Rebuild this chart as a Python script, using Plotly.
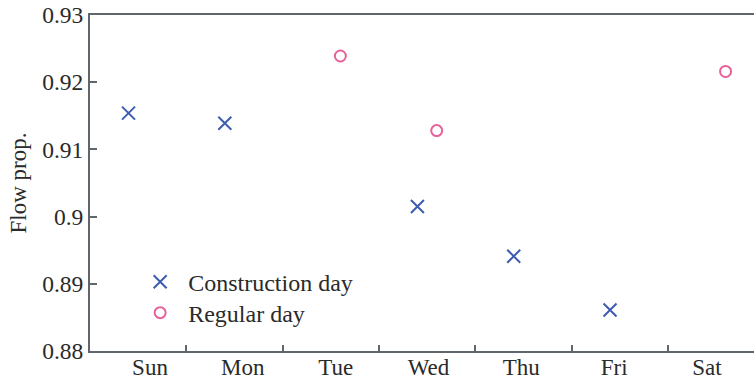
import plotly.graph_objects as go

# Weekday labels and day index of each observation
days = ["Sun", "Mon", "Tue", "Wed", "Thu", "Fri", "Sat"]

construction_day_idx = [0, 1, 3, 4, 5]
construction_flow = [0.9154, 0.9139, 0.9015, 0.8941, 0.8861]

regular_day_idx = [2, 3, 6]
regular_flow = [0.9239, 0.9128, 0.9216]

y_ticks = [0.88, 0.89, 0.90, 0.91, 0.92, 0.93]
y_ticktext = ["0.88", "0.89", "0.9", "0.91", "0.92", "0.93"]

BLUE = "#3d5bb0"
PINK = "#e9609a"
AXIS = "#5f676c"
TEXT = "#2a2a2a"
FONT = "Liberation Serif"

# small horizontal offset so the two groups sit side by side within a day
OFFSET = 0.1

fig = go.Figure()
fig.add_trace(go.Scatter(
    x=[d - OFFSET for d in construction_day_idx], y=construction_flow,
    mode="markers", name="Construction day",
    marker=dict(symbol="x-thin", size=13, line=dict(color=BLUE, width=2), color=BLUE),
    legend="legend",
))
fig.add_trace(go.Scatter(
    x=[d + OFFSET for d in regular_day_idx], y=regular_flow,
    mode="markers", name="Regular day",
    marker=dict(symbol="circle-open", size=11, line=dict(color=PINK, width=2), color=PINK),
    legend="legend2",
))
# invisible trace so the weekday label axis is rendered
fig.add_trace(go.Scatter(x=[0], y=[0.9], xaxis="x2", mode="markers",
                         marker=dict(opacity=0), showlegend=False, hoverinfo="skip"))

legend_style = dict(
    bgcolor="rgba(0,0,0,0)", borderwidth=0,
    font=dict(family=FONT, size=24, color=TEXT),
    xanchor="left", yanchor="middle", itemwidth=46,
)

fig.update_layout(
    width=754, height=382,
    margin=dict(l=90, r=0, t=15, b=31),
    plot_bgcolor="white", paper_bgcolor="white",
    font=dict(family=FONT, size=23, color=TEXT),
    xaxis=dict(
        range=[-0.5, 6.395],
        tickvals=[i + 0.5 for i in range(len(days) - 1)],
        showticklabels=False,
        ticks="inside", ticklen=6, tickwidth=1.5, tickcolor=AXIS,
        showline=True, linecolor=AXIS, linewidth=2, mirror=True,
        showgrid=False, zeroline=False,
    ),
    xaxis2=dict(
        overlaying="x", side="bottom",
        range=[-0.646, 6.506],
        tickvals=list(range(len(days))), ticktext=days,
        ticks="", showline=False, showgrid=False, zeroline=False,
        tickfont=dict(family=FONT, size=23, color=TEXT),
    ),
    yaxis=dict(
        range=[0.88, 0.93],
        tickvals=y_ticks, ticktext=y_ticktext,
        ticks="inside", ticklen=7, tickwidth=1.5, tickcolor=AXIS,
        showline=True, linecolor=AXIS, linewidth=2,
        showgrid=False, zeroline=False,
        tickfont=dict(family=FONT, size=23.5, color=TEXT),
        title=dict(text="Flow prop.", font=dict(family=FONT, size=23, color=TEXT), standoff=9),
    ),
    legend=dict(x=0.0635, y=0.205, **legend_style),
    legend2=dict(x=0.0635, y=0.113, **legend_style),
)

fig.write_html("out.html")
